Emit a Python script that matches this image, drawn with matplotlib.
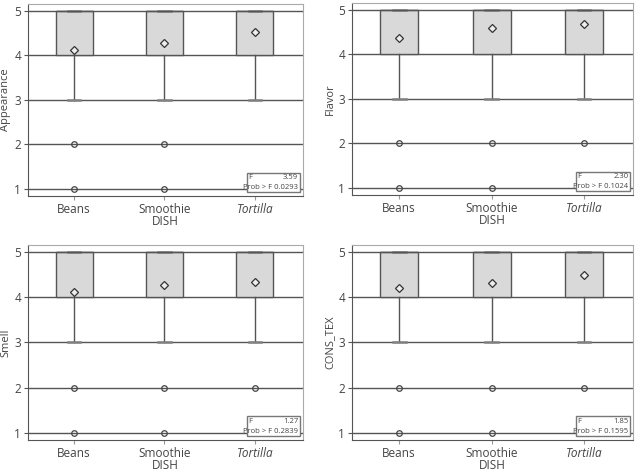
import matplotlib.pyplot as plt
from matplotlib.patches import Rectangle

plt.rcParams['font.family'] = ['Open Sans', 'DejaVu Sans']

dishes = ['Beans', 'Smoothie', 'Tortilla']
attributes = ['Appearance', 'Flavor', 'Smell', 'CONS_TEX']

# box stats (same for every dish / attribute)
q1 = 4
q3 = 5
median = 5
whisker_lo = 3
whisker_hi = 5

means = {
    'Appearance': [4.12, 4.27, 4.53],
    'Flavor': [4.37, 4.58, 4.67],
    'Smell': [4.12, 4.26, 4.34],
    'CONS_TEX': [4.20, 4.31, 4.48],
}
outliers = {
    'Appearance': [[2, 1], [2, 1], []],
    'Flavor': [[2, 1], [2, 1], [2]],
    'Smell': [[2, 1], [2, 1], [2]],
    'CONS_TEX': [[2, 1], [2, 1], [2]],
}
f_values = {'Appearance': '3.59', 'Flavor': '2.30', 'Smell': '1.27', 'CONS_TEX': '1.85'}
p_values = {'Appearance': '0.0293', 'Flavor': '0.1024', 'Smell': '0.2839', 'CONS_TEX': '0.1595'}

dark = '#555555'
txt = '#444444'

fig = plt.figure(figsize=(6.36, 4.74), dpi=100)
positions = [
    [0.044, 0.5865, 0.432, 0.405],
    [0.5535, 0.5886, 0.4418, 0.405],
    [0.044, 0.0717, 0.432, 0.411],
    [0.5535, 0.0717, 0.4418, 0.411],
]

for attr, pos in zip(attributes, positions):
    ax = fig.add_axes(pos)
    for y in range(1, 6):
        ax.axhline(y, color=dark, lw=1.0, zorder=1)

    stats = []
    for i, d in enumerate(dishes):
        stats.append({'label': d, 'q1': q1, 'q3': q3, 'med': median,
                      'whislo': whisker_lo, 'whishi': whisker_hi,
                      'mean': means[attr][i], 'fliers': outliers[attr][i]})
    ax.bxp(stats, positions=range(3), widths=0.41, patch_artist=True,
           showmeans=True, showfliers=True,
           boxprops=dict(facecolor='#d9d9d9', edgecolor=dark, lw=1.0),
           medianprops=dict(color=dark, lw=1.0),
           whiskerprops=dict(color=dark, lw=1.0),
           capprops=dict(color='#808080', lw=1.8),
           capwidths=0.14,
           meanprops=dict(marker='D', markerfacecolor='#eeeeee', markeredgecolor='#333333',
                          markersize=4.3, markeredgewidth=0.9),
           flierprops=dict(marker='o', markerfacecolor='none', markeredgecolor='#444444',
                           markersize=4, markeredgewidth=0.9),
           zorder=3)

    ax.set_xlim(-0.51, 2.53)
    ax.set_ylim(0.84, 5.15)
    ax.set_yticks([1, 2, 3, 4, 5])
    ax.set_xticks(range(3))
    ax.set_xticklabels(dishes, fontsize=8.5, color=txt)
    ax.get_xticklabels()[2].set_style('italic')
    ax.tick_params(axis='y', labelsize=8.5, labelcolor=txt, length=3, color=dark, pad=2)
    ax.tick_params(axis='x', length=3, color='#999999', pad=2)
    ax.set_xlabel('DISH', fontsize=8.5, color=txt, labelpad=-1)
    ax.set_ylabel(attr, fontsize=8, color=txt, labelpad=2)
    for s in ['left', 'bottom']:
        ax.spines[s].set_color(dark)
    for s in ['top', 'right']:
        ax.spines[s].set_color('#aaaaaa')

    # F test box
    ax.add_patch(Rectangle((0.796, 0.021), 0.193, 0.10, transform=ax.transAxes,
                           facecolor='white', edgecolor='#777777', lw=1.0, zorder=5))
    ax.text(0.803, 0.096, 'F', transform=ax.transAxes, fontsize=5.5, color=txt,
            va='center', ha='left', zorder=6)
    ax.text(0.983, 0.096, f_values[attr], transform=ax.transAxes, fontsize=5.5,
            color=txt, va='center', ha='right', zorder=6)
    ax.text(0.983, 0.045, 'Prob > F ' + p_values[attr], transform=ax.transAxes,
            fontsize=5.5, color=txt, va='center', ha='right', zorder=6)

fig.savefig('out.png', dpi=100)
